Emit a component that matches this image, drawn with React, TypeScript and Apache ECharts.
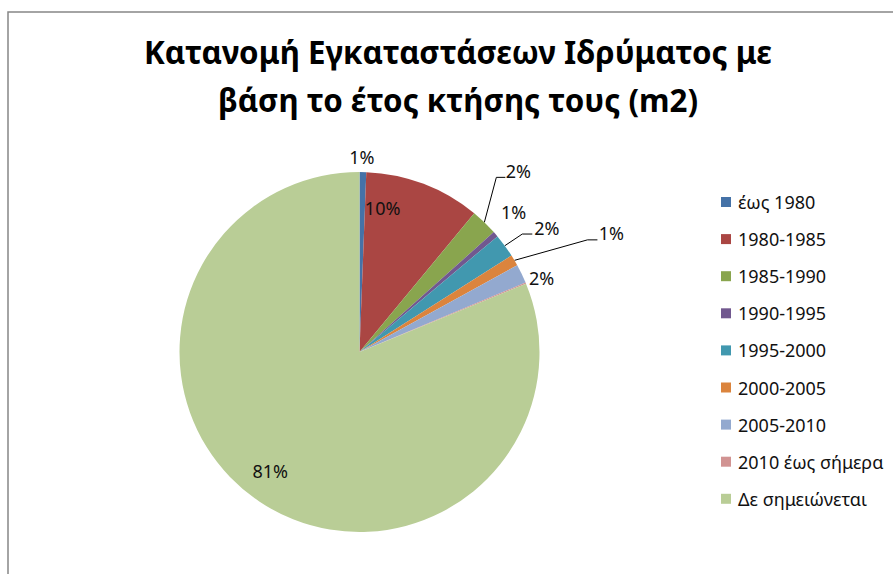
import React, { useEffect, useRef } from 'react';
import * as echarts from 'echarts';

const categories = [
  'έως 1980',
  '1980-1985',
  '1985-1990',
  '1990-1995',
  '1995-2000',
  '2000-2005',
  '2005-2010',
  '2010 έως σήμερα',
  'Δε σημειώνεται',
];
const shares = [0.6, 10.4, 2.4, 0.5, 2.1, 1.0, 1.7, 0.1, 81.2];
const colors = ['#4572A7', '#AA4643', '#89A54E', '#71588F', '#4198AF', '#DB843D', '#93A9CF', '#D19392', '#B9CD96'];

// Label placement style: offset of the text centre from the slice's outer-edge midpoint
const labelOffsets: (number[] | null)[] = [[-1, -15], [-41, 24], [34, -51], [18, -22], [42, -18], [97, -27], [20, 4], null, [11, -31]];
// Leader line bends, relative to the slice's outer-edge midpoint
const leaderBends: (number[][] | null)[] = [
  null,
  null,
  [[12, -45], [21, -45]],
  null,
  [[17.5, -11.7], [27.5, -11.7]],
  [[73, -20.5], [83, -20.5]],
  null,
  null,
  null,
];

const CX = 359.5;
const CY = 352;
const R = 180;
const FONT = 'Noto Sans';

export default function App() {
  const ref = useRef<HTMLDivElement>(null);
  useEffect(() => {
    if (!ref.current) return;
    const chart = echarts.init(ref.current, null, { renderer: 'svg' });
    const total = shares.reduce((a, b) => a + b, 0);
    let acc = 0;
    const mids = shares.map((v) => {
      const m = ((acc + v / 2) / total) * 2 * Math.PI;
      acc += v;
      return m;
    });
    chart.setOption({
      animation: false,
      color: colors,
      title: {
        text: 'Κατανομή Εγκαταστάσεων Ιδρύματος με\nβάση το έτος κτήσης τους (m2)',
        left: 458,
        top: 28,
        textAlign: 'center',
        padding: 0,
        textStyle: { fontSize: 31.3, fontWeight: 'bold', lineHeight: 48, fontFamily: FONT, color: '#000' },
      },
      graphic: [
        {
          type: 'rect',
          silent: true,
          z: -1,
          shape: { x: 8, y: 12, width: 1000, height: 1000 },
          style: { fill: 'none', stroke: '#878787', lineWidth: 1.5 },
        },
      ],
      legend: {
        orient: 'vertical',
        left: 721,
        top: 192,
        padding: 0,
        itemWidth: 10,
        itemHeight: 10,
        itemGap: 17.1,
        icon: 'rect',
        data: categories,
        textStyle: { fontSize: 18, fontFamily: FONT, color: '#111', lineHeight: 20, padding: [0, 0, 0, 2] },
      },
      series: [
        {
          type: 'pie',
          center: [CX, CY],
          radius: R,
          startAngle: 90,
          clockwise: true,
          avoidLabelOverlap: false,
          itemStyle: { borderWidth: 0 },
          label: {
            show: true,
            position: 'outside',
            formatter: (p: any) => Math.round(p.percent) + '%',
            fontSize: 18,
            fontFamily: FONT,
            color: '#111',
          },
          labelLine: { show: true, lineStyle: { color: '#000', width: 1 }, smooth: false },
          labelLayout: (params: any) => {
            const i = params.dataIndex;
            const off = labelOffsets[i];
            if (!off) return {};
            const ex = CX + R * Math.sin(mids[i]);
            const ey = CY - R * Math.cos(mids[i]);
            const res: any = { x: ex + off[0], y: ey + off[1], align: 'center', verticalAlign: 'middle' };
            const bends = leaderBends[i];
            if (bends) {
              res.labelLinePoints = [[ex, ey], ...bends.map((b) => [ex + b[0], ey + b[1]])];
            }
            return res;
          },
          data: categories.map((name, i) => ({
            name,
            value: shares[i],
            label: { show: i !== 7 },
            labelLine: { show: !!leaderBends[i] },
          })),
        },
      ],
    });
    return () => chart.dispose();
  }, []);
  return <div ref={ref} style={{ position: 'absolute', left: 0, top: 0, width: 893, height: 574 }} />;
}
